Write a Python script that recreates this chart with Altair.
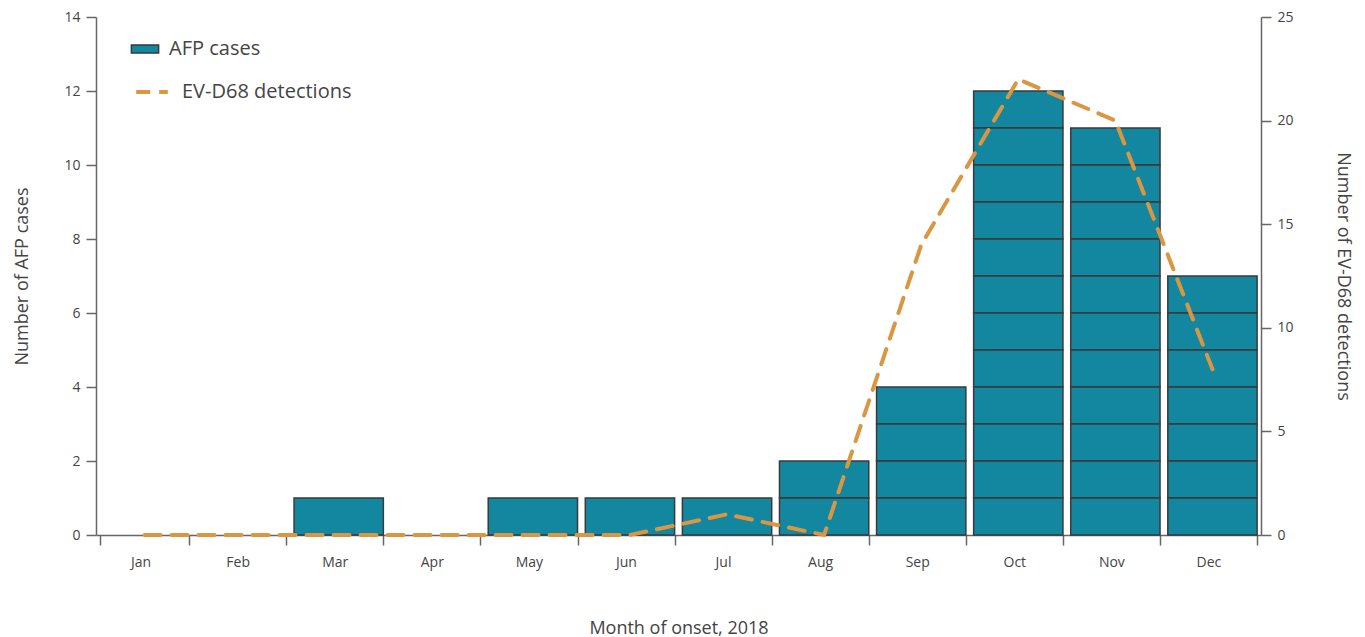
import altair as alt
import pandas as pd

months = ["Jan", "Feb", "Mar", "Apr", "May", "Jun", "Jul", "Aug", "Sep", "Oct", "Nov", "Dec"]
afp_cases = [0, 0, 1, 0, 1, 1, 1, 2, 4, 12, 11, 7]
evd68_detections = [0, 0, 0, 0, 0, 0, 1, 0, 14, 22, 20, 8]

# one row per AFP case so every case is drawn as its own stacked cell
case_rows = []
for m, n in zip(months, afp_cases):
    for k in range(n):
        case_rows.append({"month": m, "case": k, "one": 1, "series": "AFP cases"})
cases_df = pd.DataFrame(case_rows)

line_df = pd.DataFrame({"month": months, "detections": evd68_detections,
                        "series": ["EV-D68 detections"] * len(months)})

FONT = "Open Sans"
TXT = "#444444"
AX = "#666666"
BAR = "#13879F"
ORANGE = "#DA9640"

x_enc = alt.X("month:N", sort=months,
              scale=alt.Scale(paddingInner=0.08, paddingOuter=0.04),
              axis=alt.Axis(title="Month of onset, 2018", labelAngle=0, tickBand="extent",
                            titlePadding=50, labelPadding=10, tickSize=10, labelOffset=-4))

bars = alt.Chart(cases_df).mark_bar(stroke="#3a3a3a", strokeWidth=1.5, fill=BAR).encode(
    x=x_enc,
    y=alt.Y("sum(one):Q", stack="zero",
            scale=alt.Scale(domain=[0, 14]),
            axis=alt.Axis(title="Number of AFP cases", values=list(range(0, 15, 2)),
                          tickSize=10, labelPadding=6, titlePadding=32, orient="left")),
    detail="case:N",
    color=alt.Color("series:N", scale=alt.Scale(range=[BAR]),
                    legend=alt.Legend(title=None, orient="none", legendX=39, legendY=22,
                                      symbolType="M-1.5,-0.45H1.5V0.45H-1.5Z", symbolSize=330,
                                      symbolStrokeColor="#3a3a3a", symbolStrokeWidth=1.5,
                                      labelFontSize=20, labelOffset=14, labelLimit=0)),
)

line = alt.Chart(line_df).mark_line(strokeWidth=4, strokeDash=[16, 11], strokeCap="round").encode(
    x=alt.X("month:N", sort=months),
    y=alt.Y("detections:Q", scale=alt.Scale(domain=[0, 25]),
            axis=alt.Axis(title="Number of EV-D68 detections", values=list(range(0, 26, 5)),
                          tickSize=10, labelPadding=6, titlePadding=40, orient="right")),
    stroke=alt.Stroke("series:N", scale=alt.Scale(range=[ORANGE]),
                      legend=alt.Legend(title=None, orient="none", legendX=38, legendY=57,
                                        symbolType="stroke", symbolStrokeWidth=4,
                                        symbolDash=[14, 9], symbolSize=1000,
                                        labelFontSize=20, labelOffset=12, labelLimit=0)),
)

chart = alt.layer(bars, line).resolve_scale(y="independent", color="independent").properties(
    width=1165, height=518, padding={"left": 5, "top": 2, "right": 5, "bottom": 5}
).configure_view(stroke=None).configure_axis(
    domainColor=AX, domainWidth=1.5, tickColor=AX, tickWidth=1.5,
    labelFont=FONT, titleFont=FONT, labelColor=TXT, titleColor=TXT,
    labelFontSize=14, titleFontSize=18, titleFontWeight="normal", grid=False
).configure_legend(labelFont=FONT, labelColor=TXT)

chart.save("out.html", embed_options={"renderer": "svg", "actions": False})
